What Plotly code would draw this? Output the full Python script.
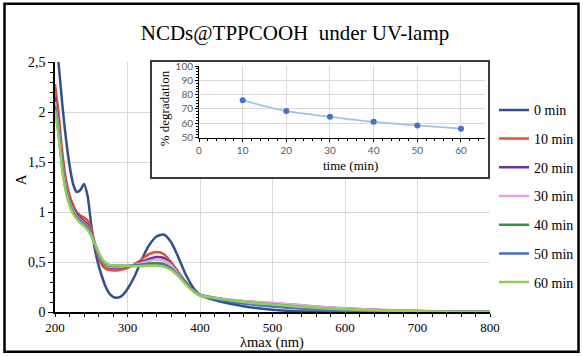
import plotly.graph_objects as go

# ---------------- data ----------------
wavelength = [200, 205, 210, 215, 220, 225, 230, 235, 240, 245, 250, 255, 260, 265, 270,
              275, 280, 285, 290, 295, 300, 310, 320, 330, 340, 350, 360, 370, 380, 390,
              400, 420, 440, 460, 480, 500, 525, 550, 575, 600, 650, 700, 750, 800]

a_0min = [2.85, 2.48, 2.08, 1.74, 1.47, 1.28, 1.20, 1.22, 1.28, 1.16, 0.87, 0.63, 0.47, 0.35, 0.25,
          0.185, 0.152, 0.143, 0.152, 0.182, 0.23, 0.36, 0.53, 0.67, 0.755, 0.775, 0.70, 0.55, 0.38, 0.25,
          0.17, 0.12, 0.085, 0.058, 0.037, 0.022, 0.010, 0.004, 0.001, 0.0, 0.0, 0.0, 0.0, 0.0]
a_10min = [2.28, 1.98, 1.60, 1.33, 1.17, 1.07, 1.00, 0.965, 0.945, 0.915, 0.83, 0.68, 0.55, 0.47, 0.43,
           0.42, 0.415, 0.415, 0.42, 0.43, 0.44, 0.48, 0.53, 0.58, 0.60, 0.58, 0.50, 0.40, 0.30, 0.22,
           0.17, 0.14, 0.12, 0.108, 0.098, 0.088, 0.074, 0.06, 0.046, 0.035, 0.02, 0.01, 0.005, 0.003]
a_20min = [2.15, 1.88, 1.52, 1.28, 1.13, 1.04, 0.98, 0.94, 0.91, 0.87, 0.79, 0.68, 0.57, 0.50, 0.46,
           0.445, 0.44, 0.44, 0.445, 0.45, 0.455, 0.47, 0.50, 0.53, 0.55, 0.54, 0.48, 0.39, 0.30, 0.22,
           0.17, 0.14, 0.12, 0.105, 0.095, 0.086, 0.072, 0.057, 0.043, 0.033, 0.018, 0.009, 0.004, 0.002]
a_30min = [2.10, 1.84, 1.49, 1.26, 1.11, 1.02, 0.96, 0.92, 0.89, 0.85, 0.78, 0.68, 0.58, 0.51, 0.47,
           0.455, 0.45, 0.45, 0.452, 0.455, 0.46, 0.47, 0.49, 0.51, 0.525, 0.515, 0.47, 0.38, 0.29, 0.22,
           0.17, 0.145, 0.125, 0.11, 0.10, 0.092, 0.078, 0.063, 0.048, 0.037, 0.02, 0.01, 0.005, 0.003]
a_40min = [2.06, 1.80, 1.46, 1.23, 1.09, 1.00, 0.95, 0.91, 0.88, 0.84, 0.77, 0.68, 0.59, 0.52, 0.48,
           0.465, 0.46, 0.46, 0.46, 0.46, 0.46, 0.465, 0.475, 0.485, 0.49, 0.48, 0.44, 0.37, 0.29, 0.22,
           0.17, 0.14, 0.118, 0.10, 0.085, 0.074, 0.06, 0.045, 0.033, 0.025, 0.012, 0.006, 0.003, 0.002]
a_50min = [2.04, 1.78, 1.44, 1.22, 1.08, 0.99, 0.94, 0.90, 0.87, 0.83, 0.765, 0.68, 0.595, 0.525, 0.485,
           0.468, 0.462, 0.462, 0.462, 0.461, 0.46, 0.462, 0.468, 0.475, 0.478, 0.47, 0.43, 0.365, 0.285, 0.215,
           0.165, 0.13, 0.105, 0.085, 0.068, 0.055, 0.04, 0.028, 0.018, 0.012, 0.005, 0.002, 0.001, 0.0]
a_60min = [2.02, 1.76, 1.42, 1.20, 1.07, 0.98, 0.93, 0.89, 0.86, 0.82, 0.76, 0.68, 0.60, 0.53, 0.49,
           0.47, 0.465, 0.465, 0.465, 0.463, 0.46, 0.458, 0.46, 0.465, 0.465, 0.455, 0.42, 0.36, 0.28, 0.21,
           0.165, 0.14, 0.12, 0.10, 0.085, 0.075, 0.06, 0.047, 0.035, 0.027, 0.014, 0.007, 0.003, 0.002]

series_names = ["0 min", "10 min", "20 min", "30 min", "40 min", "50 min", "60 min"]
series_values = [a_0min, a_10min, a_20min, a_30min, a_40min, a_50min, a_60min]
series_colors = ["#2F4F8F", "#E8502A", "#7030A0", "#E6A3E6", "#2E9B3E", "#4472C4", "#92D050"]

time_min = [10, 20, 30, 40, 50, 60]
degradation = [76, 68.5, 64.5, 61, 58.5, 56.2]

x_ticks = [200, 300, 400, 500, 600, 700, 800]
y_ticks = [0, 0.5, 1, 1.5, 2, 2.5]
inset_x_ticks = [0, 10, 20, 30, 40, 50, 60]
inset_y_ticks = [50, 60, 70, 80, 90, 100]

# ---------------- layout geometry (pixels) ----------------
W, H = 583, 356
PL, PR, PT, PB = 55, 490, 61.7, 311.7   # main plot area


def px_x(p):
    return (p - PL) / (PR - PL)


def px_y(p):
    return (PB - p) / (PB - PT)


SERIF = "Liberation Serif"
SANS = "Lato"

fig = go.Figure()

for name, vals, col in zip(series_names, series_values, series_colors):
    fig.add_trace(go.Scatter(
        x=wavelength, y=vals, name=name, mode="lines",
        line=dict(color=col, width=2.5, shape="spline", smoothing=0.6),
        legendgroup=name, xaxis="x", yaxis="y",
    ))

# inset background/frame subplot (x2/y2), then inset data subplot (x3/y3)
fig.add_trace(go.Scatter(x=[None], y=[None], xaxis="x2", yaxis="y2",
                         showlegend=False, hoverinfo="skip"))
fig.add_trace(go.Scatter(
    x=time_min, y=degradation, mode="lines+markers", showlegend=False,
    line=dict(color="#9DC3E6", width=1.8, shape="spline", smoothing=0.6),
    marker=dict(color="#4472C4", size=6),
    xaxis="x3", yaxis="y3",
))

minor_tick = dict(ticks="outside", ticklen=3, tickcolor="black", showgrid=False)

fig.update_layout(
    template="none",
    width=W, height=H,
    margin=dict(l=PL, r=W - PR, t=PT, b=H - PB, autoexpand=False),
    paper_bgcolor="white", plot_bgcolor="white",
    separators=",.",
    font=dict(family=SERIF, size=14, color="black"),
    title=dict(text="NCDs@TPPCOOH  under UV-lamp", x=295 / W, xref="container", xanchor="center",
               y=1 - 33 / H, yanchor="middle", font=dict(family=SERIF, size=21, color="black")),
    xaxis=dict(
        domain=[0, 1], range=[200, 800], tickvals=x_ticks, ticks="outside", ticklen=3,
        tickcolor="black", showline=True, linecolor="black", linewidth=1.5,
        showgrid=True, gridcolor="#D9D9D9", gridwidth=1, zeroline=False,
        minor=dict(dtick=20, **minor_tick),
        tickfont=dict(family=SERIF, size=13, color="black"),
        anchor="y",
    ),
    yaxis=dict(
        domain=[0, 1], range=[0, 2.5], tickvals=y_ticks, ticks="outside", ticklen=5,
        tickcolor="black", showline=True, linecolor="black", linewidth=1.5,
        showgrid=True, gridcolor="#D9D9D9", gridwidth=1, zeroline=False,
        minor=dict(dtick=0.1, **minor_tick),
        tickfont=dict(family=SERIF, size=14, color="black"),
        anchor="x",
    ),
    xaxis2=dict(
        domain=[px_x(152), px_x(488)], range=[0, 1], showgrid=False, zeroline=False,
        showticklabels=False, ticks="", showline=True, mirror=True,
        linecolor="#3A3A3A", linewidth=1.5, anchor="y2", fixedrange=True,
    ),
    yaxis2=dict(
        domain=[px_y(177), 1.0], range=[0, 1], showgrid=False, zeroline=False,
        showticklabels=False, ticks="", showline=True, mirror=True,
        linecolor="#3A3A3A", linewidth=1.5, anchor="x2", fixedrange=True,
    ),
    xaxis3=dict(
        domain=[px_x(199), px_x(485)], range=[0, 65.5], tickvals=inset_x_ticks,
        ticks="outside", ticklen=3, tickcolor="black", showline=True, linecolor="black",
        linewidth=1, showgrid=True, gridcolor="#D9D9D9", zeroline=False,
        minor=dict(dtick=2, ticks="outside", ticklen=2, tickcolor="black", showgrid=False),
        tickfont=dict(family=SANS, size=10, color="#595959"),
        anchor="y3",
    ),
    yaxis3=dict(
        domain=[px_y(137.3), px_y(65.7)], range=[50, 100], tickvals=inset_y_ticks,
        ticks="outside", ticklen=3, tickcolor="black", showline=True, linecolor="black",
        linewidth=1, showgrid=True, gridcolor="#D9D9D9", zeroline=False,
        minor=dict(dtick=2, ticks="outside", ticklen=2, tickcolor="black", showgrid=False),
        tickfont=dict(family=SANS, size=10, color="#595959"),
        anchor="x3",
    ),
    legend=dict(
        x=px_x(494), xanchor="left", y=px_y(94), yanchor="top",
        font=dict(family=SERIF, size=14, color="black"),
        bgcolor="rgba(0,0,0,0)", traceorder="grouped", tracegroupgap=7.5,
        itemwidth=30,
    ),
    shapes=[dict(
        type="rect", xref="paper", yref="paper",
        x0=px_x(4.5), x1=px_x(578.5), y0=px_y(351.5), y1=px_y(3.5),
        line=dict(color="black", width=2.5), fillcolor="rgba(0,0,0,0)", layer="above",
    )],
    annotations=[
        dict(text="λmax (nm)", xref="paper", yref="paper", x=px_x(272), y=px_y(342.5),
             xanchor="center", yanchor="middle", showarrow=False, borderpad=0,
             font=dict(family=SERIF, size=14.5, color="black")),
        dict(text="A", xref="paper", yref="paper", x=px_x(21), y=px_y(180),
             xanchor="center", yanchor="middle", showarrow=False, textangle=-90,
             font=dict(family=SERIF, size=15, color="black")),
        dict(text="time (min)", xref="paper", yref="paper", x=px_x(350), y=px_y(165),
             xanchor="center", yanchor="middle", showarrow=False,
             font=dict(family=SERIF, size=13, color="black")),
        dict(text="% degradation", xref="paper", yref="paper", x=px_x(164), y=px_y(108),
             xanchor="center", yanchor="middle", showarrow=False, textangle=-90,
             font=dict(family=SERIF, size=13, color="black")),
    ],
)

fig.write_html("out.html")
